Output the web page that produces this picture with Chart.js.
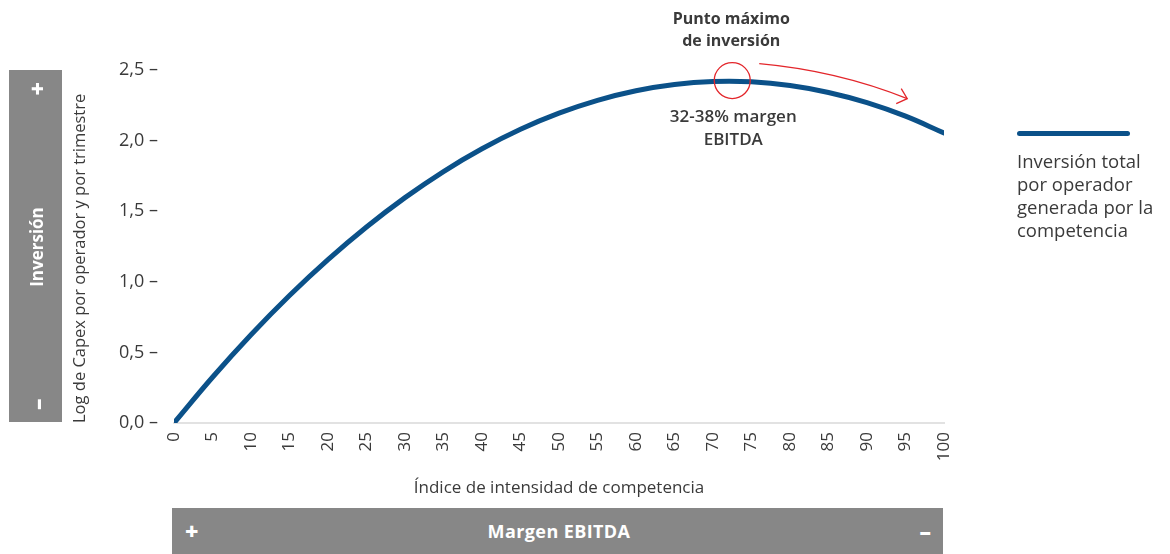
<!DOCTYPE html>
<html lang="es">
<head>
<meta charset="utf-8">
<script src="https://cdn.jsdelivr.net/npm/chart.js@4.4.1/dist/chart.umd.min.js"></script>
<style>
    html, body { margin: 0; padding: 0; background: #fff; }
    body { font-family: "Open Sans", sans-serif; }
    #wrap { position: relative; width: 1170px; height: 554px; overflow: hidden; }
    #chart { position: absolute; left: 0; top: 0; }
    .box { position: absolute; background: #878787; color: #fff; font-weight: 700; }
    #leftBox { left: 9px; top: 70px; width: 53px; height: 352px; }
    #leftBox .inner {
        position: absolute; left: 50%; top: 50%; width: 352px; height: 53px;
        transform: translate(-50%, -50%) rotate(-90deg);
        display: flex; align-items: center; justify-content: space-between;
        box-sizing: border-box; padding: 0 12px; font-size: 17px;
    }
    .sign { font-size: 23px; font-weight: 800; }
    #bottomBox { left: 172px; top: 508px; width: 771px; height: 46px;
        display: flex; align-items: center; justify-content: space-between;
        box-sizing: border-box; padding: 0 12px 0 13px; font-size: 18px; }
    #bottomBox .name { letter-spacing: 0.4px; }
    #legend { position: absolute; left: 1017px; top: 131px; width: 153px; }
    #legend .swatch { width: 113px; height: 5px; border-radius: 3px; background: #0b5189; }
    #legend .text { margin-top: 13px; font-size: 18.5px; line-height: 23px; color: #3a3a3a; white-space: nowrap; }
</style>
</head>
<body>
<div id="wrap">
    <canvas id="chart" width="1170" height="554"></canvas>
    <div class="box" id="leftBox"><div class="inner"><span class="sign">–</span><span>Inversión</span><span class="sign">+</span></div></div>
    <div class="box" id="bottomBox"><span class="sign">+</span><span class="name">Margen EBITDA</span><span class="sign">–</span></div>
    <div id="legend">
        <div class="swatch"></div>
        <div class="text">Inversión total<br>por operador<br>generada por la<br>competencia</div>
    </div>
</div>
<script>
const competitionIndex = [0, 5, 10, 15, 20, 25, 30, 35, 40, 45, 50, 55, 60, 65, 70, 75, 80, 85, 90, 95, 100];
const capexLog = [0, 0.324, 0.625, 0.903, 1.157, 1.388, 1.596, 1.781, 1.942, 2.080, 2.194, 2.285, 2.353, 2.397, 2.418, 2.416, 2.390, 2.341, 2.269, 2.173, 2.054];
const yTicks = [0, 0.5, 1.0, 1.5, 2.0, 2.5];
const peakPoint = { x: 72.5, y: 2.425 };
const peakTitle = ['Punto máximo', 'de inversión'];
const peakNote = ['32-38% margen', 'EBITDA'];

const lineColor = '#0b5189';
const textColor = '#3a3a3a';
const accent = '#e3262b';

const peakAnnotation = {
    id: 'peakAnnotation',
    afterDatasetsDraw(chart) {
        const { ctx, scales } = chart;
        const cx = scales.x.getPixelForValue(peakPoint.x);
        const cy = scales.y.getPixelForValue(peakPoint.y);
        ctx.save();

        // circle on the top of the curve
        ctx.strokeStyle = accent;
        ctx.lineWidth = 1.3;
        ctx.beginPath();
        ctx.arc(cx, cy, 18, 0, Math.PI * 2);
        ctx.stroke();

        // arrow going down the curve
        const sx = cx + 27, sy = cy - 17;
        const ex = cx + 175, ey = cy + 18;
        ctx.beginPath();
        ctx.moveTo(sx, sy);
        ctx.quadraticCurveTo(cx + 105, cy - 10, ex, ey);
        ctx.stroke();
        ctx.beginPath();
        ctx.moveTo(ex - 6, ey - 10);
        ctx.lineTo(ex, ey);
        ctx.lineTo(ex - 11, ey + 5);
        ctx.stroke();

        ctx.fillStyle = textColor;
        ctx.textAlign = 'center';
        ctx.textBaseline = 'middle';
        ctx.font = 'bold 16px "Open Sans"';
        ctx.fillText(peakTitle[0], cx - 1, cy - 61);
        ctx.fillText(peakTitle[1], cx - 1, cy - 39);
        ctx.font = '600 17px "Open Sans"';
        ctx.fillText(peakNote[0], cx + 1, cy + 37);
        ctx.fillText(peakNote[1], cx + 1, cy + 60);
        ctx.restore();
    }
};

new Chart(document.getElementById('chart'), {
    type: 'line',
    data: {
        datasets: [{
            label: 'Inversión total por operador generada por la competencia',
            data: competitionIndex.map((x, i) => ({ x, y: capexLog[i] })),
            borderColor: lineColor,
            borderWidth: 5,
            borderCapStyle: 'round',
            pointRadius: 0,
            tension: 0.4,
            fill: false
        }]
    },
    options: {
        responsive: false,
        animation: false,
        events: [],
        layout: { padding: { left: 0, right: 226, top: 70, bottom: 0 } },
        plugins: { legend: { display: false }, tooltip: { enabled: false } },
        scales: {
            x: {
                type: 'linear',
                min: 0,
                max: 100,
                afterFit(scale) { scale.height = 131; },
                afterBuildTicks(scale) {
                    scale.ticks = competitionIndex.map(v => ({ value: v }));
                },
                ticks: {
                    color: textColor,
                    font: { family: 'Open Sans', size: 17 },
                    minRotation: 90,
                    maxRotation: 90,
                    padding: 9,
                    autoSkip: false
                },
                grid: { display: false, drawTicks: false },
                border: { display: true, color: '#e2e2e2', width: 2 },
                title: {
                    display: true,
                    text: 'Índice de intensidad de competencia',
                    color: textColor,
                    font: { family: 'Open Sans', size: 17 },
                    padding: { top: 0, bottom: 56 }
                }
            },
            y: {
                min: 0,
                max: 2.5,
                afterFit(scale) { scale.width = 174; },
                afterBuildTicks(scale) {
                    scale.ticks = yTicks.map(v => ({ value: v }));
                },
                ticks: {
                    color: textColor,
                    font: { family: 'Open Sans', size: 18 },
                    padding: 16,
                    callback: v => v.toFixed(1).replace('.', ',') + ' –'
                },
                grid: { display: false, drawTicks: false },
                border: { display: false },
                title: {
                    display: true,
                    align: 'start',
                    text: 'Log de Capex por operador y por trimestre',
                    color: textColor,
                    font: { family: 'Open Sans', size: 16.5 },
                    padding: { top: 70, bottom: 0 }
                }
            }
        }
    },
    plugins: [peakAnnotation]
});
</script>
</body>
</html>
